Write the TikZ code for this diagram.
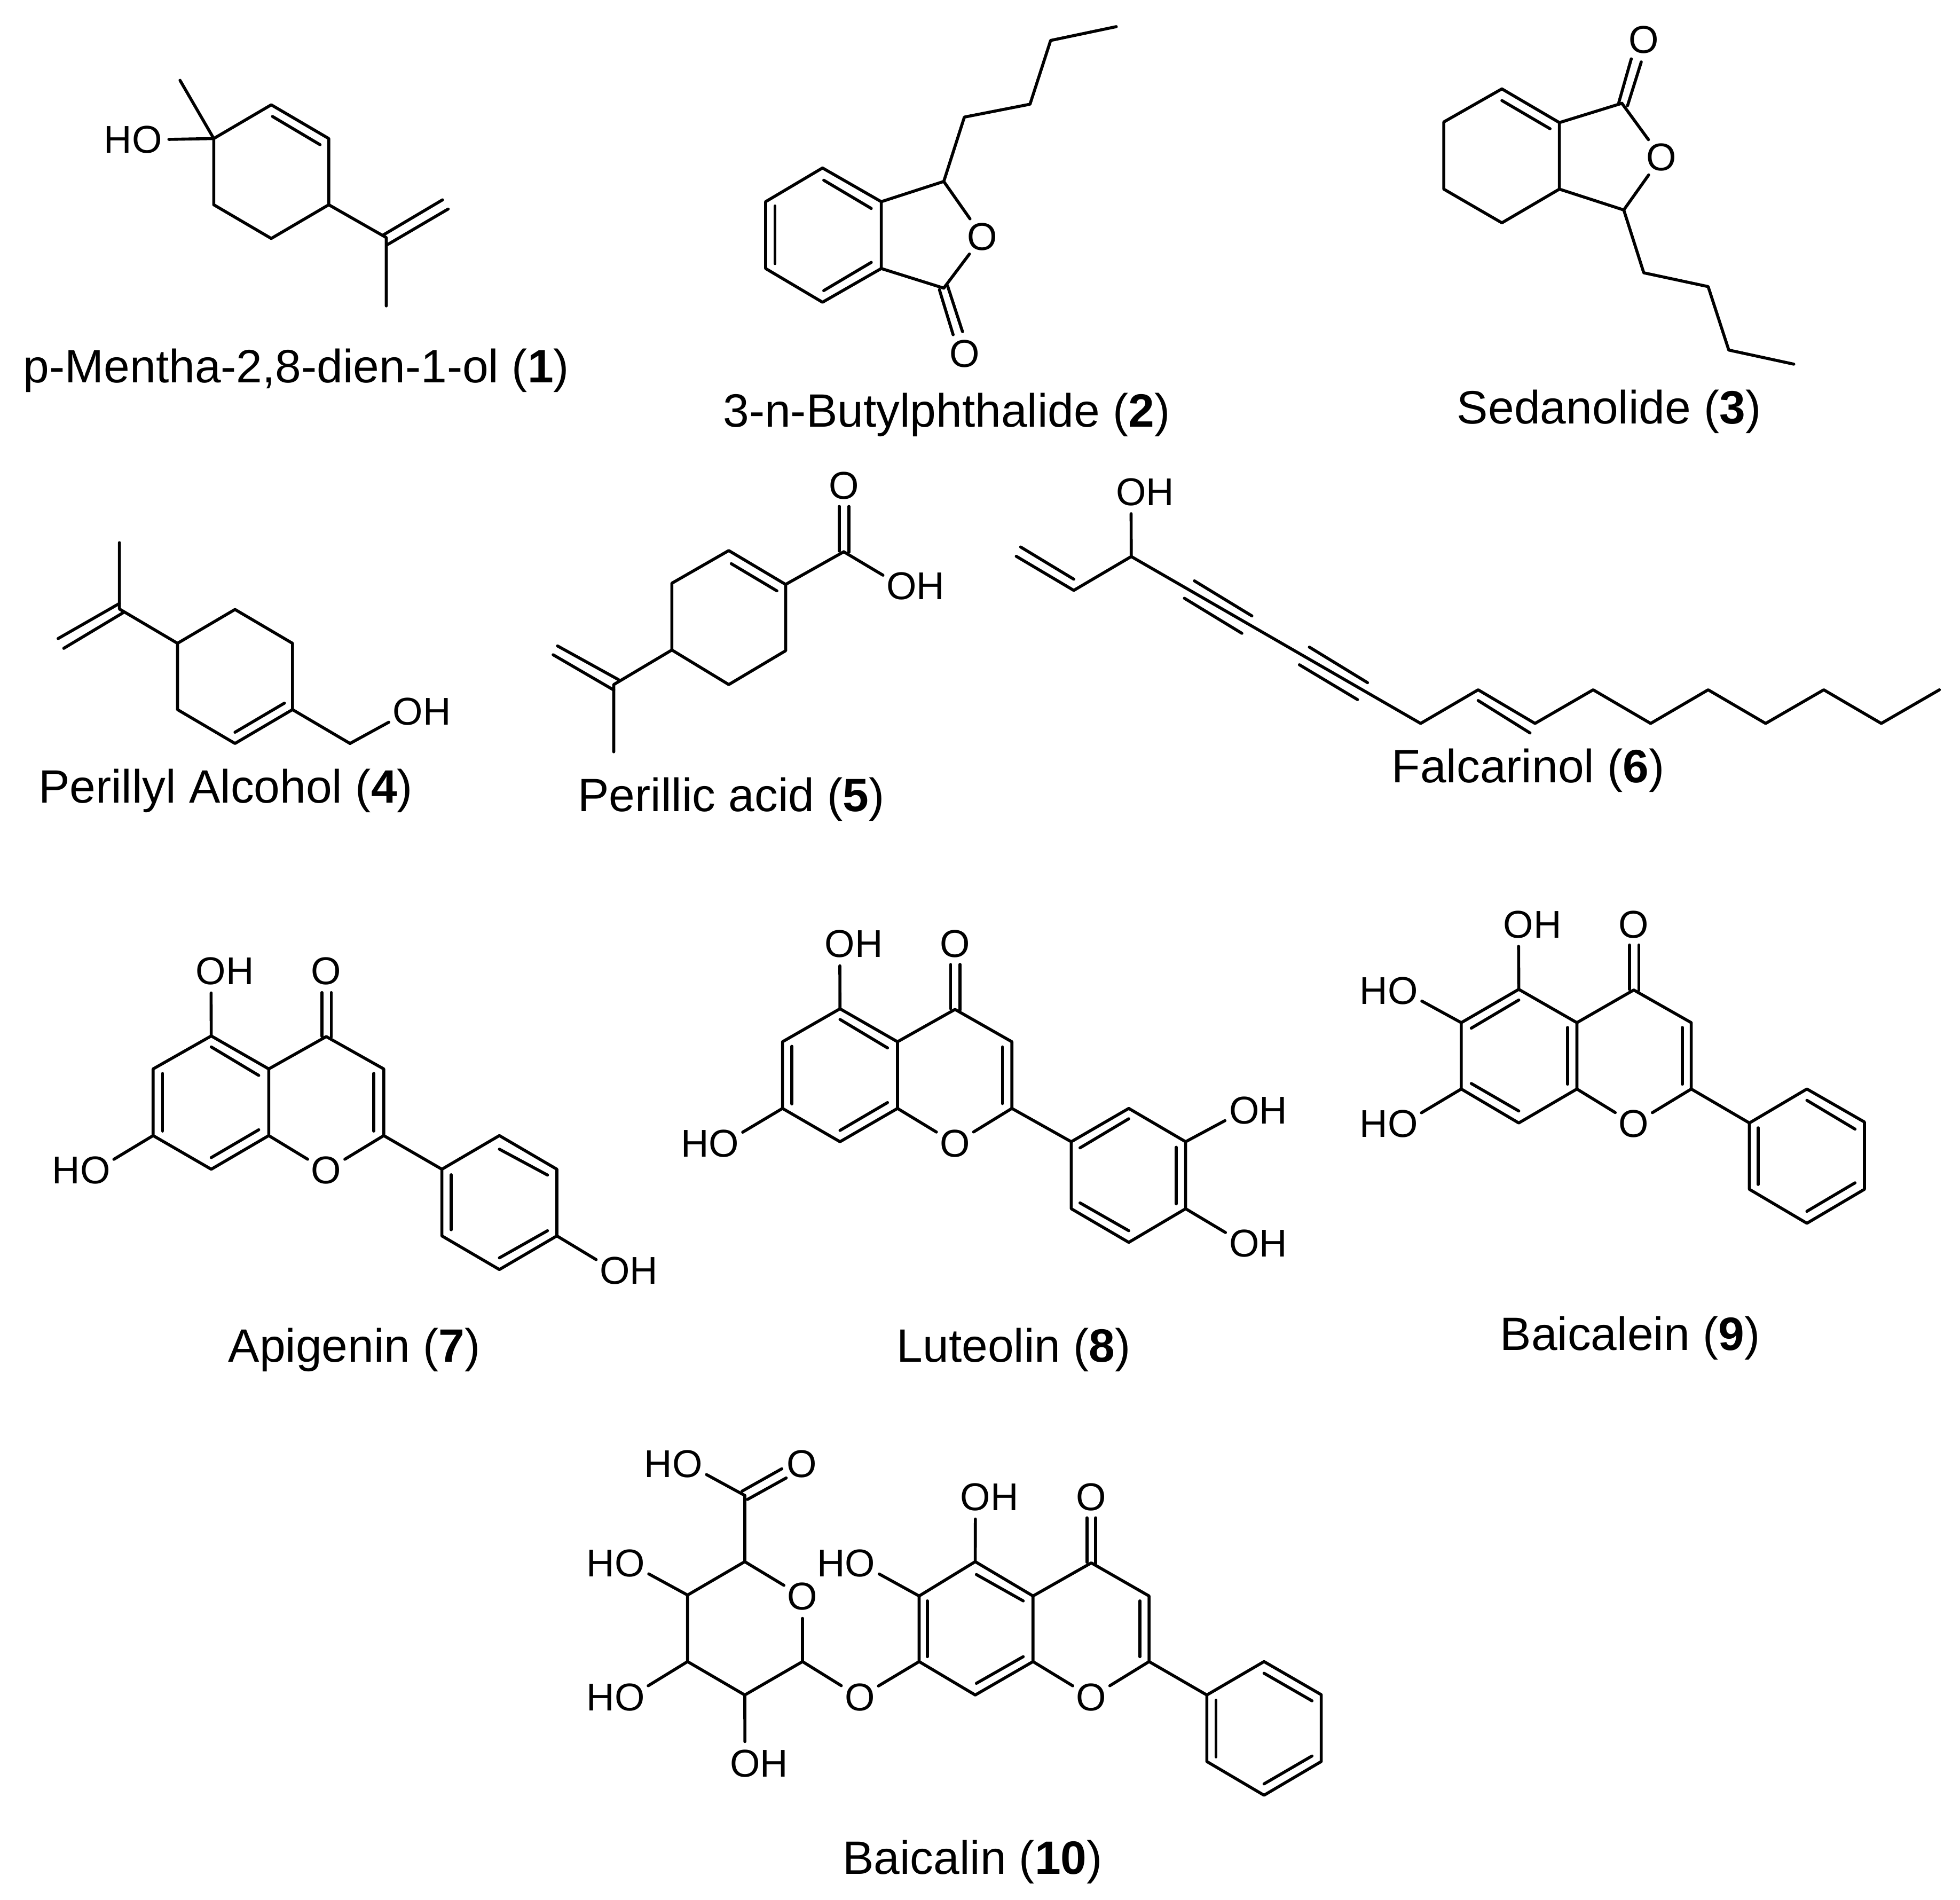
\documentclass[tikz,border=0pt]{standalone}
\usepackage{fontspec}
\setmainfont{Liberation Sans}
\tikzset{
  bond/.style={line width=1.2pt,line cap=round,line join=round,black},
  tolab/.style={bond,shorten >=8.7pt},
  atom/.style={font=\fontsize{15.5pt}{18pt}\selectfont,inner sep=1pt,text=black},
  captext/.style={font=\fontsize{18.7pt}{22pt}\selectfont,inner sep=0pt,anchor=base,text=black},
  zA/.style={x=.25pt,y=-.12259pt},
  zB/.style={shift={(392pt,0pt)},x=.25pt,y=-.12259pt},
  zC/.style={shift={(0pt,-183.67pt)},x=.25pt,y=-.09535pt},
  zD/.style={shift={(392pt,-183.67pt)},x=.25pt,y=-.09535pt},
  zE/.style={shift={(0pt,-363.06pt)},x=.25pt,y=-.12940pt},
  zF/.style={shift={(392pt,-363.06pt)},x=.25pt,y=-.12940pt},
  zG/.style={shift={(213.566pt,-565.95pt)},x=.21794pt,y=-.12259pt},
}
\newcommand{\ca}[3]{\coordinate (#1) at (#2,#3);}
\newcommand{\seg}[4]{\draw[bond] (#1,#2) -- (#3,#4);}
\newcommand{\toO}[2]{\draw[tolab] (#1) -- (#2.center);}
\newcommand{\toOH}[2]{\draw[tolab] (#1) -- ([xshift=-5.6pt]#2.center);}
\newcommand{\toHO}[2]{\draw[tolab] (#1) -- ([xshift=5.6pt]#2.center);}
\begin{document}
\begin{tikzpicture}
\useasboundingbox (0pt,0pt) rectangle (784pt,-759.66pt);
\fill[white] (0pt,0pt) rectangle (784pt,-759.66pt);

% ---------- 1
\begin{scope}[zA]
\ca{ma}{342}{452}\ca{mb}{434}{342}\ca{mc}{526}{452}\ca{md}{526}{668}\ca{me}{434}{778}\ca{mf}{342}{668}
\ca{mg}{288}{262}\ca{mh}{618}{775}\ca{mi}{618}{998}
\node[atom] (mho) at (213,456) {HO};
\draw[bond] (mf) -- (ma) -- (mb) -- (mc) -- (md) -- (me) -- (mf);
\draw[bond] (mg) -- (ma);
\toHO{ma}{mho}
\draw[bond] (md) -- (mh) -- (mi);
\seg{436}{380}{512}{472}
\seg{612}{768}{708}{652}
\seg{620}{798}{717}{682}
\node[captext] (lab1) at (474,1248) {p-Mentha-2,8-dien-1-ol (\textbf{1})};
\end{scope}

% ---------- 2
\begin{scope}[zA]
\ca{pa}{1316}{548}\ca{pb}{1410}{658}\ca{pc}{1410}{876}\ca{pd}{1316}{986}\ca{pe}{1225}{876}\ca{pf}{1225}{658}
\ca{pg}{1510}{592}\ca{ph}{1510}{940}
\ca{pi}{1543}{382}\ca{pj}{1648}{340}\ca{pk}{1681}{132}\ca{pl}{1786}{87}
\node[atom] (po) at (1572,772) {O};
\node[atom] (pq) at (1543,1155) {O};
\draw[bond] (pa) -- (pb) -- (pc) -- (pd) -- (pe) -- (pf) -- (pa);
\draw[bond] (pb) -- (pg) -- (pi) -- (pj) -- (pk) -- (pl);
\draw[bond] (pc) -- (ph);
\toO{pg}{po}
\toO{ph}{po}
\seg{1318}{588}{1394}{680}
\seg{1240}{672}{1240}{860}
\seg{1318}{948}{1394}{856}
\seg{1503}{945}{1525}{1092}
\seg{1516}{932}{1540}{1082}
\node[captext] (lab2) at (1514.5,1392) {3-n-Butylphthalide (\textbf{2})};
\end{scope}

% ---------- 3
\begin{scope}[zB]
\ca{sa}{835}{290}\ca{sb}{927}{400}\ca{sc}{927}{617}\ca{sd}{835}{727}\ca{se}{742}{617}\ca{sf}{742}{398}
\ca{sg}{1027}{337}\ca{sh}{1030}{685}\ca{si}{1062}{890}\ca{sj}{1165}{935}\ca{sk}{1198}{1142}\ca{sl}{1302}{1188}
\node[atom] (so) at (1090,513) {O};
\node[atom] (sq) at (1062,130) {O};
\draw[bond] (sa) -- (sb) -- (sc) -- (sd) -- (se) -- (sf) -- (sa);
\draw[bond] (sb) -- (sg);
\draw[bond] (sc) -- (sh) -- (si) -- (sj) -- (sk) -- (sl);
\toO{sg}{so}
\toO{sh}{so}
\seg{835}{328}{912}{420}
\seg{1022}{335}{1042}{192}
\seg{1036}{345}{1058}{202}
\node[captext] (lab3) at (1006.5,1382) {Sedanolide (\textbf{3})};
\end{scope}

% ---------- 4
\begin{scope}[zC]
\ca{ra}{284}{772}\ca{rb}{376}{630}\ca{rc}{468}{772}\ca{rd}{468}{1050}\ca{re}{376}{1192}\ca{rf}{284}{1050}
\ca{rg}{191}{628}\ca{rh}{191}{350}\ca{ri}{560}{1192}
\node[atom] (roh) at (675,1059) {OH};
\draw[bond] (ra) -- (rb) -- (rc) -- (rd) -- (re) -- (rf) -- (ra);
\draw[bond] (rh) -- (rg) -- (ra);
\draw[bond] (rd) -- (ri);
\toOH{ri}{roh}
\seg{455}{1023}{376}{1145}
\seg{191}{605}{93}{752}
\seg{198}{642}{102}{793}
\node[captext] (lab4) at (361,1442) {Perillyl Alcohol (\textbf{4})};
\end{scope}

% ---------- 5
\begin{scope}[zC]
\ca{ka}{1257}{525}\ca{kb}{1166}{383}\ca{kc}{1075}{520}\ca{kd}{1075}{800}\ca{ke}{1166}{945}\ca{kf}{1257}{803}
\ca{kg}{1350}{388}\ca{kh}{982}{945}\ca{ki}{982}{1227}
\node[atom] (koh) at (1465,533) {OH};
\node[atom] (kq) at (1350,110) {O};
\draw[bond] (ka) -- (kb) -- (kc) -- (kd) -- (ke) -- (kf) -- (ka);
\draw[bond] (ka) -- (kg);
\toOH{kg}{koh}
\draw[bond] (kd) -- (kh) -- (ki);
\seg{1170}{438}{1243}{552}
\seg{1343}{198}{1343}{385}
\seg{1358}{198}{1358}{390}
\seg{892}{783}{990}{925}
\seg{885}{820}{982}{968}
\node[captext] (lab5) at (1170,1478) {Perillic acid (\textbf{5})};
\end{scope}

% ---------- 6
\begin{scope}[zD]
\ca{fa}{242}{408}\ca{fb}{150}{550}\ca{fc}{58}{407}
\ca{fd}{705}{1108}\ca{fe}{797}{967}\ca{ff}{888}{1108}\ca{fg}{981}{967}\ca{fh}{1073}{1108}
\ca{fi}{1165}{967}\ca{fj}{1257}{1108}\ca{fk}{1350}{967}\ca{fl}{1442}{1108}\ca{fm}{1535}{967}
\node[atom] (foh) at (264,137) {OH};
\draw[bond] (fc) -- (fb) -- (fa) -- (fd) -- (fe) -- (ff) -- (fg) -- (fh) -- (fi) -- (fj) -- (fk) -- (fl) -- (fm);
\toOH{fa}{foh}
\seg{150}{503}{65}{368}
\seg{343}{510}{435}{657}
\seg{327}{583}{419}{730}
\seg{527}{788}{620}{937}
\seg{511}{862}{604}{1008}
\seg{797}{1012}{880}{1148}
\node[captext] (lab6) at (877,1355) {Falcarinol (\textbf{6})};
\end{scope}

% ---------- 7
\begin{scope}[zE]
\ca{aa}{338}{396}\ca{ab}{430}{498}\ca{ac}{430}{704}\ca{ad}{338}{808}\ca{ae}{245}{704}\ca{af}{245}{498}
\ca{ag}{522}{398}\ca{ah}{614}{498}\ca{ai}{614}{704}
\ca{aj}{707}{808}\ca{ak}{799}{704}\ca{al}{891}{808}\ca{am}{891}{1014}\ca{an}{799}{1118}\ca{ap}{707}{1014}
\node[atom] (ao) at (522,812) {O};
\node[atom] (aq) at (522,195) {O};
\node[atom] (aoh) at (360,196) {OH};
\node[atom] (aho) at (130,812) {HO};
\node[atom] (aoi) at (1006,1122) {OH};
\draw[bond] (aa) -- (ab) -- (ac) -- (ad) -- (ae) -- (af) -- (aa);
\draw[bond] (ab) -- (ag) -- (ah) -- (ai) -- (aj) -- (ak) -- (al) -- (am) -- (an) -- (ap) -- (aj);
\toO{ac}{ao}
\toO{ai}{ao}
\toOH{aa}{aoh}
\toHO{ae}{aho}
\toOH{am}{aoi}
\seg{338}{430}{414}{518}
\seg{260}{512}{260}{690}
\seg{338}{772}{414}{686}
\seg{598}{512}{598}{690}
\seg{799}{746}{876}{826}
\seg{722}{825}{722}{995}
\seg{799}{1082}{876}{998}
\seg{515}{262}{515}{397}
\seg{530}{262}{530}{400}
\node[captext] (lab7) at (567,1404) {Apigenin (\textbf{7})};
\end{scope}

% ---------- 8
\begin{scope}[zE]
\ca{la}{1344}{312}\ca{lb}{1436}{414}\ca{lc}{1436}{620}\ca{ld}{1344}{723}\ca{le}{1252}{620}\ca{lf}{1252}{414}
\ca{lg}{1528}{314}\ca{lh}{1619}{414}\ca{li}{1619}{620}
\ca{lj}{1714}{723}\ca{lk}{1806}{620}\ca{ll}{1897}{723}\ca{lm}{1897}{930}\ca{ln}{1806}{1034}\ca{lp}{1714}{930}
\node[atom] (lo) at (1528,728) {O};
\node[atom] (lq) at (1528,112) {O};
\node[atom] (loh) at (1366,112) {OH};
\node[atom] (lho) at (1136,728) {HO};
\node[atom] (loi) at (2013,626) {OH};
\node[atom] (lok) at (2013,1038) {OH};
\draw[bond] (la) -- (lb) -- (lc) -- (ld) -- (le) -- (lf) -- (la);
\draw[bond] (lb) -- (lg) -- (lh) -- (li) -- (lj) -- (lk) -- (ll) -- (lm) -- (ln) -- (lp) -- (lj);
\toO{lc}{lo}
\toO{li}{lo}
\toOH{la}{loh}
\toHO{le}{lho}
\toOH{ll}{loi}
\toOH{lm}{lok}
\seg{1344}{345}{1420}{433}
\seg{1267}{428}{1267}{606}
\seg{1344}{688}{1420}{602}
\seg{1604}{430}{1604}{605}
\seg{1728}{742}{1806}{652}
\seg{1882}{740}{1882}{915}
\seg{1728}{912}{1806}{998}
\seg{1521}{175}{1521}{312}
\seg{1536}{175}{1536}{316}
\node[captext] (lab8) at (1622,1404) {Luteolin (\textbf{8})};
\end{scope}

% ---------- 9
\begin{scope}[zF]
\ca{ba}{862}{252}\ca{bb}{955}{355}\ca{bc}{955}{560}\ca{bd}{862}{665}\ca{be}{770}{560}\ca{bf}{770}{355}
\ca{bg}{1046}{254}\ca{bh}{1138}{355}\ca{bi}{1138}{560}
\ca{bj}{1231}{665}\ca{bk}{1323}{560}\ca{bl}{1415}{662}\ca{bm}{1415}{870}\ca{bn}{1323}{975}\ca{bp}{1231}{870}
\node[atom] (bo) at (1046,668) {O};
\node[atom] (bq) at (1046,52) {O};
\node[atom] (boh) at (884,52) {OH};
\node[atom] (bho) at (654,256) {HO};
\node[atom] (bhp) at (654,668) {HO};
\draw[bond] (ba) -- (bb) -- (bc) -- (bd) -- (be) -- (bf) -- (ba);
\draw[bond] (bb) -- (bg) -- (bh) -- (bi) -- (bj) -- (bk) -- (bl) -- (bm) -- (bn) -- (bp) -- (bj);
\toO{bc}{bo}
\toO{bi}{bo}
\toOH{ba}{boh}
\toHO{bf}{bho}
\toHO{be}{bhp}
\seg{862}{285}{786}{372}
\seg{940}{370}{940}{545}
\seg{862}{628}{786}{543}
\seg{1124}{370}{1124}{545}
\seg{1323}{595}{1400}{684}
\seg{1245}{680}{1245}{855}
\seg{1323}{938}{1400}{850}
\seg{1039}{115}{1039}{252}
\seg{1054}{115}{1054}{255}
\node[captext] (lab9) at (1040,1368) {Baicalein (\textbf{9})};
\end{scope}

% ---------- 10
\begin{scope}[zG]
\ca{ua}{387}{478}\ca{ub}{282}{587}\ca{uc}{282}{804}\ca{ud}{387}{913}\ca{ue}{493}{804}\ca{uf}{387}{262}
\ca{va}{810}{478}\ca{vb}{916}{590}\ca{vc}{916}{804}\ca{vd}{810}{913}\ca{ve}{707}{804}\ca{vf}{707}{590}
\ca{vg}{1023}{482}\ca{vh}{1129}{590}\ca{vi}{1129}{804}
\ca{wa}{1235}{913}\ca{wb}{1340}{804}\ca{wc}{1445}{912}\ca{wd}{1445}{1130}\ca{we}{1340}{1240}\ca{wf}{1235}{1130}
\node[atom] (uo) at (493,592) {O};
\node[atom] (ulink) at (598,920) {O};
\node[atom] (uq) at (492,160) {O};
\node[atom] (uho) at (256,160) {HO};
\node[atom] (uhp) at (150,484) {HO};
\node[atom] (uhr) at (150,920) {HO};
\node[atom] (uoh) at (413,1136) {OH};
\node[atom] (vo) at (1023,920) {O};
\node[atom] (vq) at (1023,268) {O};
\node[atom] (voh) at (836,268) {OH};
\node[atom] (vho) at (573,484) {HO};
\draw[bond] (uf) -- (ua) -- (ub) -- (uc) -- (ud) -- (ue);
\toO{ua}{uo}
\toO{ue}{uo}
\toO{ue}{ulink}
\toO{ve}{ulink}
\toHO{uf}{uho}
\toHO{ub}{uhp}
\toHO{uc}{uhr}
\toOH{ud}{uoh}
\draw[bond] (va) -- (vb) -- (vc) -- (vd) -- (ve) -- (vf) -- (va);
\draw[bond] (vb) -- (vg) -- (vh) -- (vi) -- (wa) -- (wb) -- (wc) -- (wd) -- (we) -- (wf) -- (wa);
\toO{vc}{vo}
\toO{vi}{vo}
\toOH{va}{voh}
\toHO{vf}{vho}
\seg{382}{248}{455}{175}
\seg{392}{275}{463}{205}
\seg{722}{606}{722}{788}
\seg{812}{520}{898}{606}
\seg{812}{875}{898}{788}
\seg{1112}{606}{1112}{788}
\seg{1340}{842}{1428}{932}
\seg{1252}{930}{1252}{1115}
\seg{1340}{1203}{1428}{1112}
\seg{1015}{335}{1015}{480}
\seg{1031}{335}{1031}{486}
\node[captext] (lab10) at (805,1497) {Baicalin (\textbf{10})};
\end{scope}
\end{tikzpicture}
\end{document}
